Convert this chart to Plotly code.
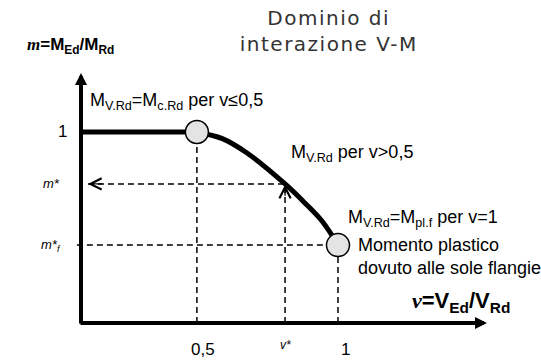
import plotly.graph_objects as go

# Normalised schematic coordinates: v = V_Ed/V_Rd on x, m = M_Ed/M_Rd on y
v_half, v_star, v_one = 0.451, 0.794, 1.0
m_one, m_star, m_star_f = 1.0, 0.728, 0.408

# Plateau M_V.Rd = M_c.Rd for v <= 0.5
plateau_v = [0.0, v_half]
plateau_m = [m_one, m_one]

# Reduced resistance branch for v > 0.5
curve_v = [0.451, 0.55, 0.646, 0.794, 0.87, 0.94, 1.0]
curve_m = [1.0, 0.965, 0.89, 0.728, 0.63, 0.53, 0.408]

# Characteristic nodes
node_v = [v_half, v_one]
node_m = [m_one, m_star_f]

# Tick labels on the two axes
x_tick_pos = [v_half, v_star, v_one]
x_tick_text = ["0,5", "<i>v*</i>", "1"]
y_tick_pos = [m_one, m_star, m_star_f]
y_tick_text = ["1", "<i>m*</i>", "<i>m*<sub>f</sub></i>"]

# Axis extents (arrow tips)
v_axis_end = 1.58
m_axis_end = 1.309

X_RANGE = [-0.3152, 1.790]
Y_RANGE = [-0.1937, 1.691]

SANS = "Liberation Sans, Arial, sans-serif"
DASH = "6px,4px"

fig = go.Figure()

def dashed(xs, ys):
    fig.add_trace(go.Scatter(x=xs, y=ys, mode="lines",
                             line=dict(color="black", width=1.5, dash=DASH),
                             hoverinfo="skip", showlegend=False))

# Construction lines
dashed([v_half, v_half], [0, m_one])
dashed([v_star, v_star], [0, m_star])
dashed([v_one, v_one], [0, m_star_f])
dashed([0.027, v_star], [m_star, m_star])
dashed([-0.016, v_one], [m_star_f, m_star_f])

# Interaction domain boundary
fig.add_trace(go.Scatter(x=plateau_v, y=plateau_m, mode="lines",
                         line=dict(color="black", width=5),
                         hoverinfo="skip", showlegend=False))
fig.add_trace(go.Scatter(x=curve_v, y=curve_m, mode="lines",
                         line=dict(color="black", width=5, shape="spline"),
                         hoverinfo="skip", showlegend=False))
fig.add_trace(go.Scatter(x=node_v, y=node_m, mode="markers",
                         marker=dict(size=23, color="#e4e4e4",
                                     line=dict(color="black", width=1.5)),
                         hoverinfo="skip", showlegend=False))

ann = []

# Axis arrows
ann.append(dict(x=0, y=m_axis_end, ax=0, ay=-0.011, xref="x", yref="y",
                axref="x", ayref="y", text="", showarrow=True,
                arrowhead=2, arrowwidth=4, arrowsize=0.6, arrowcolor="black"))
ann.append(dict(x=v_axis_end, y=0, ax=-0.008, ay=0, xref="x", yref="y",
                axref="x", ayref="y", text="", showarrow=True,
                arrowhead=2, arrowwidth=4, arrowsize=0.6, arrowcolor="black"))

# Open arrowheads on the reading path v* -> m*
ann.append(dict(x=v_star, y=m_star - 0.004, ax=v_star, ay=m_star - 0.07,
                xref="x", yref="y", axref="x", ayref="y", text="",
                showarrow=True, arrowhead=5, arrowwidth=1.3, arrowsize=1.7,
                arrowcolor="black"))
ann.append(dict(x=0.027, y=m_star, ax=0.09, ay=m_star,
                xref="x", yref="y", axref="x", ayref="y", text="",
                showarrow=True, arrowhead=5, arrowwidth=1.3, arrowsize=1.7,
                arrowcolor="black"))

# Tick labels
x_shift = [6, 0, 8]
x_size = [17, 12, 17]
for pos, txt, sh, sz in zip(x_tick_pos, x_tick_text, x_shift, x_size):
    ann.append(dict(x=pos, y=0, xref="x", yref="y", text=txt, showarrow=False,
                    xanchor="center", yanchor="middle", xshift=sh,
                    yshift=-26 if sz > 12 else -22,
                    font=dict(family=SANS, size=sz, color="black")))
y_size = [17, 13, 13]
y_xshift = [-19, -30, -30]
for pos, txt, sz, sh in zip(y_tick_pos, y_tick_text, y_size, y_xshift):
    ann.append(dict(x=0, y=pos, xref="x", yref="y", text=txt, showarrow=False,
                    xanchor="center", yanchor="middle", xshift=sh,
                    font=dict(family=SANS, size=sz, color="black")))

# Descriptive labels
def label(x, y, txt, size=18, yshift=0):
    ann.append(dict(x=x, y=y, xref="x", yref="y", text=txt, showarrow=False,
                    xanchor="left", yanchor="middle", align="left",
                    yshift=yshift,
                    font=dict(family=SANS, size=size, color="black")))

label(0.027, m_one, "M<sub>V.Rd</sub>=M<sub>c.Rd</sub> per v≤0,5", yshift=30)
label(0.81, 0.89, "M<sub>V.Rd</sub> per v>0,5")
label(1.03, m_star_f, "M<sub>V.Rd</sub>=M<sub>pl.f</sub> per v=1", yshift=27)
label(1.07, m_star_f, "Momento plastico")
label(1.07, m_star_f, "dovuto alle sole flangie", yshift=-23)

# Axis titles
SERIF = "style=\"font-family:'Liberation Serif', 'Times New Roman', serif\""
ann.append(dict(x=25 / 541, y=1 - 46 / 360, xref="paper", yref="paper",
                text=f"<span {SERIF}><em>m</em></span><b>=M<sub>Ed</sub>/M<sub>Rd</sub></b>",
                showarrow=False, xanchor="left", yanchor="middle",
                font=dict(family=SANS, size=17, color="black")))
ann.append(dict(x=410 / 541, y=1 - 302 / 360, xref="paper", yref="paper",
                text=f"<span {SERIF}><em>v</em></span><b>=V<sub>Ed</sub>/V<sub>Rd</sub></b>",
                showarrow=False, xanchor="left", yanchor="middle",
                font=dict(family=SANS, size=22, color="black")))

# Chart title
ann.append(dict(x=328 / 541, y=1 - 31 / 360, xref="paper", yref="paper",
                text="Dominio di<br>interazione V-M", showarrow=False,
                xanchor="center", yanchor="middle", align="center",
                font=dict(family="DejaVu Sans, Verdana, sans-serif", size=20,
                          color="#333333")))

fig.update_layout(
    width=541, height=360,
    margin=dict(l=0, r=0, t=0, b=0),
    paper_bgcolor="white", plot_bgcolor="white",
    xaxis=dict(range=X_RANGE, visible=False, fixedrange=True),
    yaxis=dict(range=Y_RANGE, visible=False, fixedrange=True),
    annotations=ann,
    showlegend=False,
)

# Slightly expanded tracking for the title lines
title_spacing = """
document.querySelectorAll('.annotation-text').forEach(function (t) {
    if (t.textContent.indexOf('Dominio') === 0) {
        t.style.letterSpacing = '1.5px';
    }
});
"""

fig.write_html("out.html", config={"displayModeBar": False},
               post_script=title_spacing)
